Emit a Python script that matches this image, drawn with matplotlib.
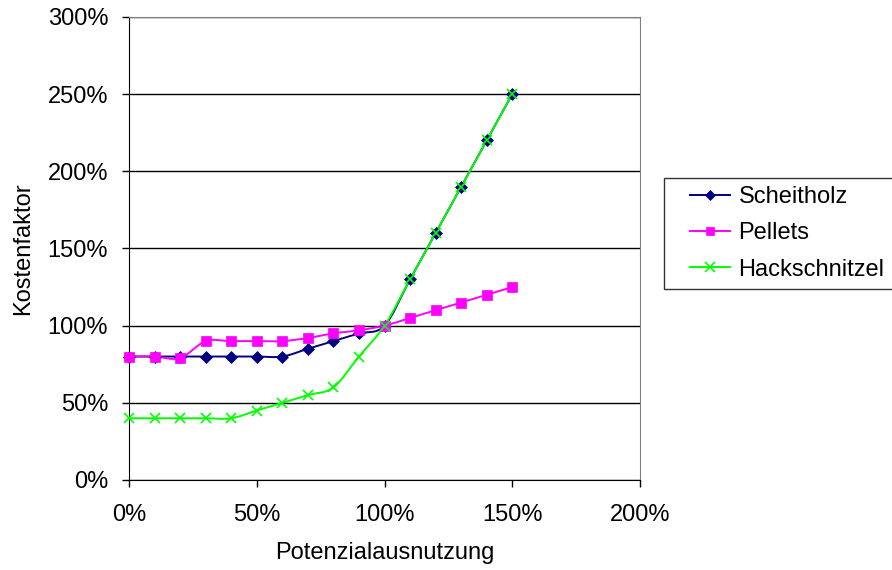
import matplotlib
matplotlib.use("Agg")
import matplotlib.pyplot as plt
import numpy as np
from matplotlib.path import Path
from matplotlib.patches import PathPatch
from matplotlib.lines import Line2D
from matplotlib.legend_handler import HandlerLine2D

plt.rcParams['font.family'] = ['Liberation Sans', 'DejaVu Sans']

x_vals = [0, 10, 20, 30, 40, 50, 60, 70, 80, 90, 100, 110, 120, 130, 140, 150]
scheitholz = [80, 80, 80, 80, 80, 80, 80, 85, 90, 95, 100, 130, 160, 190, 220, 250]
pellets = [80, 80, 79, 90, 90, 90, 90, 92, 95, 97, 100, 105, 110, 115, 120, 125]
hackschnitzel = [40, 40, 40, 40, 40, 45, 50, 55, 60, 80, 100, 130, 160, 190, 220, 250]
series_names = ["Scheitholz", "Pellets", "Hackschnitzel"]
x_ticks = [0, 50, 100, 150, 200]
y_ticks = [0, 50, 100, 150, 200, 250, 300]

colors = ["#000080", "#FF00FF", "#00FF00"]
markers = ["D", "s", "x"]
msizes = [6, 7, 7.5]

FS = 17

fig = plt.figure(figsize=(8.92, 5.70), dpi=100)
ax = fig.add_axes([129/892, 1-480/570, (640-129)/892, (480-17)/570])


def smooth_path(ax, xs, ys, t=1/6):
    # Excel-like smoothing done in display coordinates via Catmull-Rom Bezier
    pts = ax.transData.transform(np.column_stack([xs, ys]))
    n = len(pts)
    verts = [pts[0]]
    codes = [Path.MOVETO]
    for i in range(n - 1):
        p0 = pts[i - 1] if i > 0 else pts[i]
        p1 = pts[i]
        p2 = pts[i + 1]
        p3 = pts[i + 2] if i + 2 < n else pts[i + 1]
        c1 = p1 + (p2 - p0) * t
        c2 = p2 - (p3 - p1) * t
        verts += [c1, c2, p2]
        codes += [Path.CURVE4] * 3
    return Path(ax.transData.inverted().transform(np.array(verts)), codes)


ax.set_xlim(0, 200)
ax.set_ylim(0, 300)

handles = []
for ys, c, m, ms, name in zip([scheitholz, pellets, hackschnitzel], colors, markers, msizes, series_names):
    path = smooth_path(ax, x_vals, ys)
    patch = PathPatch(path, facecolor='none', edgecolor=c, lw=1.4, zorder=3, clip_on=False)
    ax.add_patch(patch)
    ax.plot(x_vals, ys, linestyle='none', marker=m, color=c, markersize=ms,
            markeredgewidth=1.2 if m == 'x' else 0.5, zorder=4, clip_on=False)
    handles.append(Line2D([0], [0], color=c, lw=1.4, marker=m, markersize=ms - 1,
                          markeredgewidth=1.2 if m == 'x' else 0.5))

ax.set_xticks(x_ticks)
ax.set_xticklabels([f"{v}%" for v in x_ticks], fontsize=FS)
ax.set_yticks(y_ticks)
ax.set_yticklabels([f"{v}%" for v in y_ticks], fontsize=FS)
ax.tick_params(axis='y', direction='out', length=5, width=1, color='black', pad=10)
ax.tick_params(axis='x', direction='out', length=5, width=1, color='black', pad=12)
ax.yaxis.grid(True, color='black', lw=1)
ax.set_axisbelow(True)
for s in ['top', 'right']:
    ax.spines[s].set_color('#808080')
for s in ['left', 'bottom']:
    ax.spines[s].set_color('black')

ax.set_xlabel("Potenzialausnutzung", fontsize=FS, labelpad=12)
ax.set_ylabel("Kostenfaktor", fontsize=FS, labelpad=10)

hmap = {h: HandlerLine2D(xpad=0.76) for h in handles}
leg = fig.legend(handles, series_names, loc='upper left',
                 bbox_to_anchor=(664/892, 1-178/570), fontsize=FS,
                 frameon=True, fancybox=False, edgecolor='black',
                 borderpad=0.35, handlelength=2.46, handletextpad=0.35,
                 labelspacing=0.6, borderaxespad=0, handler_map=hmap)
leg.get_frame().set_linewidth(1.0)

fig.savefig("out.png", dpi=100)
